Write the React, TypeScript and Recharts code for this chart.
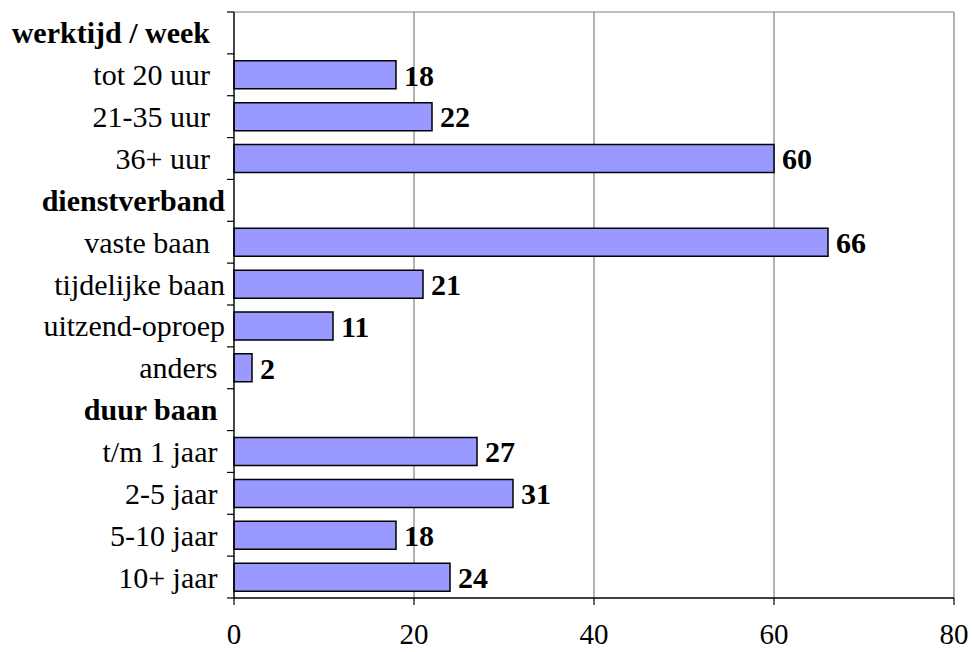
import { Bar, BarChart, CartesianGrid, LabelList, XAxis, YAxis } from "recharts";

const categories = [
  "werktijd / week",
  "tot 20 uur",
  "21-35 uur",
  "36+ uur",
  "dienstverband",
  "vaste baan",
  "tijdelijke baan",
  "uitzend-oproep",
  "anders",
  "duur baan",
  "t/m 1 jaar",
  "2-5 jaar",
  "5-10 jaar",
  "10+ jaar",
];
const values: (number | null)[] = [null, 18, 22, 60, null, 66, 21, 11, 2, null, 27, 31, 18, 24];
const headers = ["werktijd / week", "dienstverband", "duur baan"];
// labels that carry trailing space in the original
const trailing: Record<string, string> = {
  "werktijd / week": "  ",
  "tot 20 uur": "  ",
  "21-35 uur": "  ",
  "36+ uur": "  ",
  "vaste baan": "  ",
  anders: " ",
  "duur baan": " ",
  "t/m 1 jaar": " ",
  "2-5 jaar": " ",
  "5-10 jaar": " ",
  "10+ jaar": " ",
};
const xTicks = [0, 20, 40, 60, 80];

const data = categories.map((name, i) => ({ name, value: values[i] }));

const FONT = '"Liberation Serif", "Times New Roman", serif';
const W = 972;
const H = 652;
const M = { top: 12, right: 18, bottom: 24, left: 0 };
const X_H = 30;
const BAND = (H - M.top - M.bottom - X_H) / categories.length;

function CatTick(props: any) {
  const { x, y, payload, index } = props;
  const name: string = payload.value;
  const bold = headers.includes(name);
  const ax = x + 8;
  return (
    <g>
      {index === 0 && (
        <line x1={ax - 7} x2={ax} y1={y - BAND / 2} y2={y - BAND / 2} stroke="#000" strokeWidth={1.2} />
      )}
      <line x1={ax - 7} x2={ax} y1={y + BAND / 2} y2={y + BAND / 2} stroke="#000" strokeWidth={1.2} />
      <text
        x={ax - 9}
        y={y}
        dy="0.35em"
        textAnchor="end"
        xmlSpace="preserve"
        style={{ whiteSpace: "pre", fontFamily: FONT }}
        fontSize={30}
        fontWeight={bold ? "bold" : "normal"}
        fill="#000"
      >
        {name + (trailing[name] ?? "")}
      </text>
    </g>
  );
}

function NumTick(props: any) {
  const { x, y, payload } = props;
  return (
    <text x={x} y={y + 37} textAnchor="middle" style={{ fontFamily: FONT }} fontSize={29} fill="#000">
      {payload.value}
    </text>
  );
}

export default function App() {
  return (
    <div style={{ position: "fixed", left: 0, top: 0, width: W, height: H, background: "#fff" }}>
      <BarChart
        width={W}
        height={H}
        data={data}
        layout="vertical"
        margin={M}
        barCategoryGap="33%"
      >
        <CartesianGrid
          stroke="#808080"
          strokeWidth={1.2}
          horizontalPoints={[M.top]}
          vertical={true}
        />
        <XAxis
          type="number"
          domain={[0, 80]}
          ticks={xTicks}
          interval={0}
          height={X_H}
          axisLine={{ stroke: "#000", strokeWidth: 1.5 }}
          tickLine={{ stroke: "#000", strokeWidth: 1.2 }}
          tickSize={7}
          tick={<NumTick />}
        />
        <YAxis
          type="category"
          dataKey="name"
          width={234}
          interval={0}
          axisLine={{ stroke: "#000", strokeWidth: 1.2 }}
          tickLine={false}
          tick={<CatTick />}
        />
        <Bar dataKey="value" fill="#9999ff" stroke="#000" strokeWidth={1.5} barSize={28} isAnimationActive={false}>
          <LabelList
            dataKey="value"
            position="right"
            offset={8}
            fill="#000"
            style={{ fontFamily: FONT }}
            fontSize={30}
            fontWeight="bold"
          />
        </Bar>
      </BarChart>
    </div>
  );
}
